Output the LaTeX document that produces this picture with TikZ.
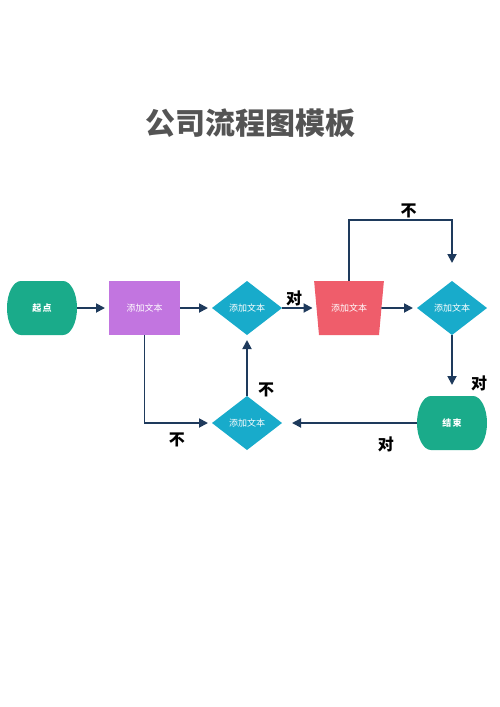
\documentclass[tikz,border=0pt]{standalone}
\usepackage{fontspec}
\setmainfont{Noto Sans CJK SC}
\usetikzlibrary{arrows.meta, shapes.geometric, positioning}
\definecolor{flowgreen}{HTML}{1AAB8A}
\definecolor{flowpurple}{HTML}{C275E0}
\definecolor{flowcyan}{HTML}{18ABCB}
\definecolor{flowred}{HTML}{EF5D6B}
\definecolor{flowline}{HTML}{1E3A5C}
\definecolor{flowtitle}{HTML}{545454}

\begin{document}
\begin{tikzpicture}
            [x=1pt, y=1pt, ->, >={Triangle[length=9pt,width=9pt]}, node distance=32pt,
            line width=1.8pt, draw=flowline, shorten >=4pt, every node/.style={outer sep=0pt},
            startend/.style={rectangle, minimum width=70pt, minimum height=54pt, text=white, font=\fontsize{9}{10}\selectfont\bfseries,
                path picture={\fill[-, flowgreen] ([xshift=14pt]path picture bounding box.north west) -- ([xshift=-14pt]path picture bounding box.north east)
                    arc[start angle=90, end angle=-90, x radius=14pt, y radius=27pt] -- ([xshift=14pt]path picture bounding box.south west)
                    arc[start angle=270, end angle=90, x radius=14pt, y radius=27pt] -- cycle;}},
            process/.style={rectangle, fill=flowpurple, minimum width=71pt, minimum height=54pt, text=white, font=\fontsize{9}{10}\selectfont},
            decision/.style={diamond, inner sep=0pt, fill=flowcyan, minimum width=70pt, minimum height=54pt, text=white, font=\fontsize{9}{10}\selectfont},
            manual/.style={trapezium, shape border rotate=180, trapezium angle=77, trapezium stretches=true, fill=flowred, minimum width=70pt, minimum height=54pt, text=white, font=\fontsize{9}{10}\selectfont},
            lbl/.style={text=black, font=\fontsize{16}{16}\selectfont\bfseries, inner sep=2pt}]

            \useasboundingbox (0,0) rectangle (500,-707);
            \node[text=flowtitle, font=\fontsize{30}{30}\selectfont\bfseries] (title) at (250,-123) {公司流程图模板};

            \node[startend] (start) at (42,-308) {起\,点};
            \node[process] (p1) [right = of start] {添加文本};
            \node[decision] (d1) [right = of p1] {添加文本};
            \node[manual] (m1) at (349,-308) {添加文本};
            \node[decision] (d3) at (452,-308) {添加文本};
            \node[decision] (d2) [below = 61pt of d1] {添加文本};
            \node[startend] (stop) [below = 61pt of d3] {结\,束};

            \draw (start) -- (p1);
            \draw (p1) -- (d1);
            \draw (d1) -- node[lbl, above, pos=0.35] {对} (m1);
            \draw (m1) -- (d3);
            \draw[shorten >=18pt] (m1.north) -- ++(0,61) -| node[lbl, above, pos=0.29] {不} (d3.north);
            \draw[shorten >=11pt] (d3) -- node[lbl, right, pos=0.8, xshift=17pt] {对} (stop);
            \draw[shorten >=10pt] (stop) -- node[lbl, below, pos=0.23, yshift=-12pt] {对} (d2);
            \draw (p1.south) |- node[lbl, below, pos=0.74, yshift=-8pt] {不} (d2.west);
            \draw[shorten >=5pt] (d2) -- node[lbl, right, pos=0.05, xshift=9pt, yshift=3pt] {不} (d1);
\end{tikzpicture}
\end{document}
